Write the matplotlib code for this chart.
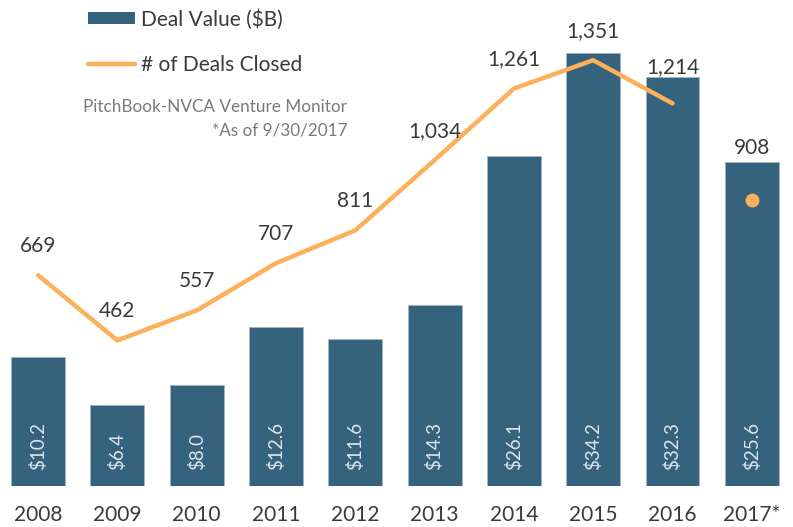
import matplotlib
matplotlib.use('Agg')
import numpy as np
import matplotlib.pyplot as plt
from matplotlib.lines import Line2D
from matplotlib.patches import Patch

years = ['2008', '2009', '2010', '2011', '2012', '2013', '2014', '2015', '2016', '2017*']
deal_value = [10.2, 6.4, 8.0, 12.6, 11.6, 14.3, 26.1, 34.2, 32.3, 25.6]
deals_closed = [669, 462, 557, 707, 811, 1034, 1261, 1351, 1214, 908]

bar_color = '#35637d'
line_color = '#fcb05a'
text_color = '#3a3a3a'

plt.rcParams['font.family'] = ['Lato', 'DejaVu Sans']

fig = plt.figure(figsize=(7.93, 5.27), dpi=100)
ax = fig.add_axes([0, 41 / 527, 1, 486 / 527])
x = np.arange(len(years))

# bars for deal value
ax.bar(x, deal_value, width=0.68, color=bar_color, edgecolor='#9fb6c4', linewidth=0.6)
for xi, v in zip(x, deal_value):
    ax.text(xi, 1.25, '$%.1f' % v, rotation=90, ha='center', va='bottom',
            color='#dde6ec', fontsize=13.5)

ax.set_xlim(-0.48, 9.52)
ax.set_ylim(0, 38.4)
ax.set_yticks([])
ax.set_xticks(x)
ax.set_xticklabels(years, fontsize=15, color=text_color)
ax.tick_params(axis='x', length=0, pad=14)
for s in ax.spines.values():
    s.set_visible(False)

# line for number of deals (2017 only partial -> single dot)
ax2 = ax.twinx()
ax2.plot(x[:-1], deals_closed[:-1], color=line_color, lw=3.2, solid_capstyle='round',
         solid_joinstyle='miter')
ax2.plot(x[-1:], deals_closed[-1:], 'o', color=line_color, ms=9)
for i, (xi, v) in enumerate(zip(x, deals_closed)):
    dy = 21
    if i == 8:
        dy = 26   # sits a bit higher, over the bar
    if i == 9:
        dy = 37   # 2017 label goes above the bar
    ax2.annotate('{:,}'.format(v), (xi, v), xytext=(0, dy), textcoords='offset points',
                 ha='center', va='center', fontsize=15, color=text_color)
ax2.set_ylim(0, 1542)
ax2.set_yticks([])
for s in ax2.spines.values():
    s.set_visible(False)

handles = [Patch(facecolor=bar_color, edgecolor='none'),
           Line2D([0], [0], color=line_color, lw=3.2, solid_capstyle='round')]
leg = fig.legend(handles, ['Deal Value ($B)', '# of Deals Closed'], loc='upper left',
                 bbox_to_anchor=(88 / 793, 1 - 9 / 527), frameon=False, fontsize=15,
                 handlelength=2.25, handletextpad=0.28, labelspacing=1.2,
                 borderpad=0, borderaxespad=0, handleheight=0.5)
for t in leg.get_texts():
    t.set_color(text_color)

fig.text(347 / 793, 1 - 107 / 527, 'PitchBook-NVCA Venture Monitor', ha='right', va='center',
         fontsize=12.3, color='#7a7a7a')
fig.text(347 / 793, 1 - 130 / 527, '*As of 9/30/2017', ha='right', va='center',
         fontsize=12.3, color='#7a7a7a')

fig.savefig('out.png', dpi=100)
